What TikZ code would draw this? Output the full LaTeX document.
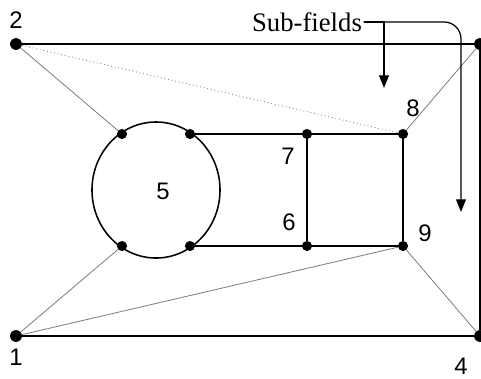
\documentclass[tikz,border=0pt]{standalone}
\usepackage{fontspec}
\setmainfont{Liberation Serif}
\newfontfamily\numfont{Liberation Sans}
\usetikzlibrary{arrows.meta,shapes.geometric}
\tikzset{
    dot/.style={circle, fill=black, inner sep=0pt, minimum size=7.2pt},
    bigdot/.style={dot, minimum size=8.4pt},
    num/.style={font=\numfont\fontsize{17}{17}\selectfont, inner sep=0pt},
    edge/.style={line width=1.1pt},
    thin/.style={line width=0.6pt, gray},
}
\begin{document}
\begin{tikzpicture}[x=0.025cm, y=-0.025cm, >={Triangle[length=9pt,width=7pt]}]
    \useasboundingbox (0,0) rectangle (481,378);
    % 1. Các điểm góc
    \node[bigdot] (n1) at (16,336) {};
    \node[bigdot] (n2) at (16,44) {};
    \node[bigdot] (n3) at (480,44) {};
    \node[bigdot] (n4) at (480,336) {};

    % 2. Vòng tròn 5
    \node[draw, ellipse, line width=1.1pt, minimum width=3.2cm, minimum height=3.4cm,
        inner sep=0pt] (c5) at (156,190) {};
    \node[num] (l5) at (163,191) {5};
    \node[dot] (a) at (122,134) {};
    \node[dot] (b) at (190,134) {};
    \node[dot] (c) at (122,246) {};
    \node[dot] (d) at (190,246) {};

    % 3. Các điểm bên trong
    \node[dot] (n7) at (307,134) {};
    \node[dot] (n8) at (403,134) {};
    \node[dot] (n6) at (307,246) {};
    \node[dot] (n9) at (403,246) {};

    % 4. Khung ngoài
    \draw[line width=1.3pt] (n2) -- (n3) -- (n4) -- (n1) -- cycle;

    % 5. Các cạnh bên trong
    \draw[edge] (b) -- (n7) -- (n8) -- (n9) -- (n6) -- (d);
    \draw[edge] (n7) -- (n6);
    \draw[thin] (n2) -- (a);
    \draw[thin, dotted] (n2) -- (n8);
    \draw[thin] (n3) -- (n8);
    \draw[thin] (n1) -- (c);
    \draw[thin] (n1) -- (n9);
    \draw[thin] (n9) -- (n4);

    % 6. Nhãn
    \node[num] (l1) at (16,357) {1};
    \node[num] (l2) at (16,20) {2};
    \node[num] (l3) at (487,20) {3};
    \node[num] (l4) at (461,366) {4};
    \node[num] (l6) at (289,222) {6};
    \node[num] (l7) at (288,156) {7};
    \node[num] (l8) at (413,108) {8};
    \node[num] (l9) at (425,233) {9};

    % 7. Sub-fields
    \node[font=\fontsize{19}{19}\selectfont, inner sep=1pt] (sf) at (307,22) {Sub-fields};
    \coordinate (s1) at (384,88);
    \coordinate (s2) at (461,212);
    \draw[line width=0.9pt, ->] (sf.east) -| (s1);
    \draw[line width=0.9pt, ->, rounded corners=12] (sf.east) -| (s2);
\end{tikzpicture}
\end{document}
